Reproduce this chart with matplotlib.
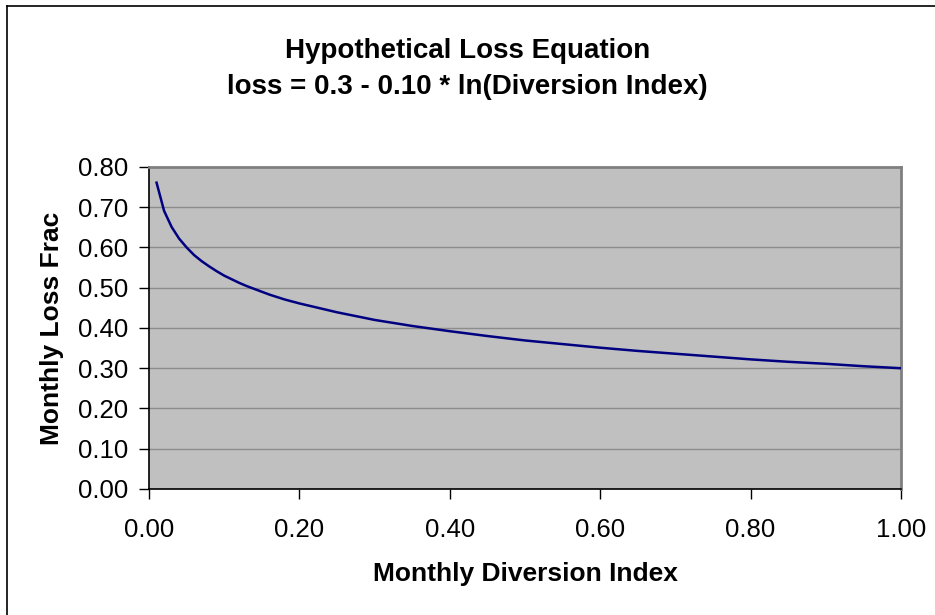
import numpy as np
import matplotlib.pyplot as plt

plt.rcParams['font.family'] = ['Liberation Sans', 'DejaVu Sans']

# Diversion index and loss fraction
diversion = [0.01, 0.02, 0.03, 0.04, 0.05, 0.06, 0.07, 0.08, 0.09, 0.10,
             0.11, 0.12, 0.13, 0.14, 0.15, 0.16, 0.17, 0.18, 0.19, 0.20,
             0.25, 0.30, 0.35, 0.40, 0.45, 0.50, 0.55, 0.60, 0.65, 0.70,
             0.75, 0.80, 0.85, 0.90, 0.95, 1.00]
loss = [0.761, 0.691, 0.651, 0.622, 0.600, 0.581, 0.566, 0.553, 0.541, 0.530,
        0.521, 0.512, 0.504, 0.497, 0.490, 0.483, 0.477, 0.471, 0.466, 0.461,
        0.439, 0.420, 0.405, 0.392, 0.380, 0.369, 0.360, 0.351, 0.343, 0.336,
        0.329, 0.322, 0.316, 0.311, 0.305, 0.300]

xticks = [0.0, 0.2, 0.4, 0.6, 0.8, 1.0]
yticks = [0.0, 0.1, 0.2, 0.3, 0.4, 0.5, 0.6, 0.7, 0.8]

fig = plt.figure(figsize=(9.35, 6.15), dpi=100)
ax = fig.add_axes([0.1594, 0.2049, 0.8042, 0.5236])

ax.set_facecolor('#c0c0c0')
ax.plot(diversion, loss, color='#000080', linewidth=1.8, zorder=3)

ax.set_xlim(0, 1)
ax.set_ylim(0, 0.8)
ax.set_xticks(xticks)
ax.set_yticks(yticks)
ax.set_xticklabels(['%.2f' % v for v in xticks])
ax.set_yticklabels(['%.2f' % v for v in yticks])
ax.tick_params(direction='out', length=7, width=1, labelsize=18.5)
ax.tick_params(axis='x', pad=14)
ax.tick_params(axis='y', pad=8)
ax.grid(axis='y', color='#8c8c8c', linewidth=1)
ax.set_axisbelow(True)

for s in ['left', 'bottom']:
    ax.spines[s].set_color('black')
    ax.spines[s].set_linewidth(1.2)
for s in ['top', 'right']:
    ax.spines[s].set_color('#808080')
    ax.spines[s].set_linewidth(2)

ax.set_xlabel('Monthly Diversion Index', fontsize=19, fontweight='bold', labelpad=14)
ax.set_ylabel('Monthly Loss Frac', fontsize=19, fontweight='bold', labelpad=10)

fig.text(0.5, 0.888, 'Hypothetical Loss Equation\nloss = 0.3 - 0.10 * ln(Diversion Index)',
         ha='center', va='center', fontsize=20, fontweight='bold', linespacing=1.5)

# chart border: only left and top edges fall inside the image
fig.add_artist(plt.Line2D([0.007, 0.007], [0, 0.991], transform=fig.transFigure,
                          color='black', linewidth=1.2))
fig.add_artist(plt.Line2D([0.007, 1], [0.991, 0.991], transform=fig.transFigure,
                          color='black', linewidth=1.2))

fig.savefig('out.png', dpi=100)
